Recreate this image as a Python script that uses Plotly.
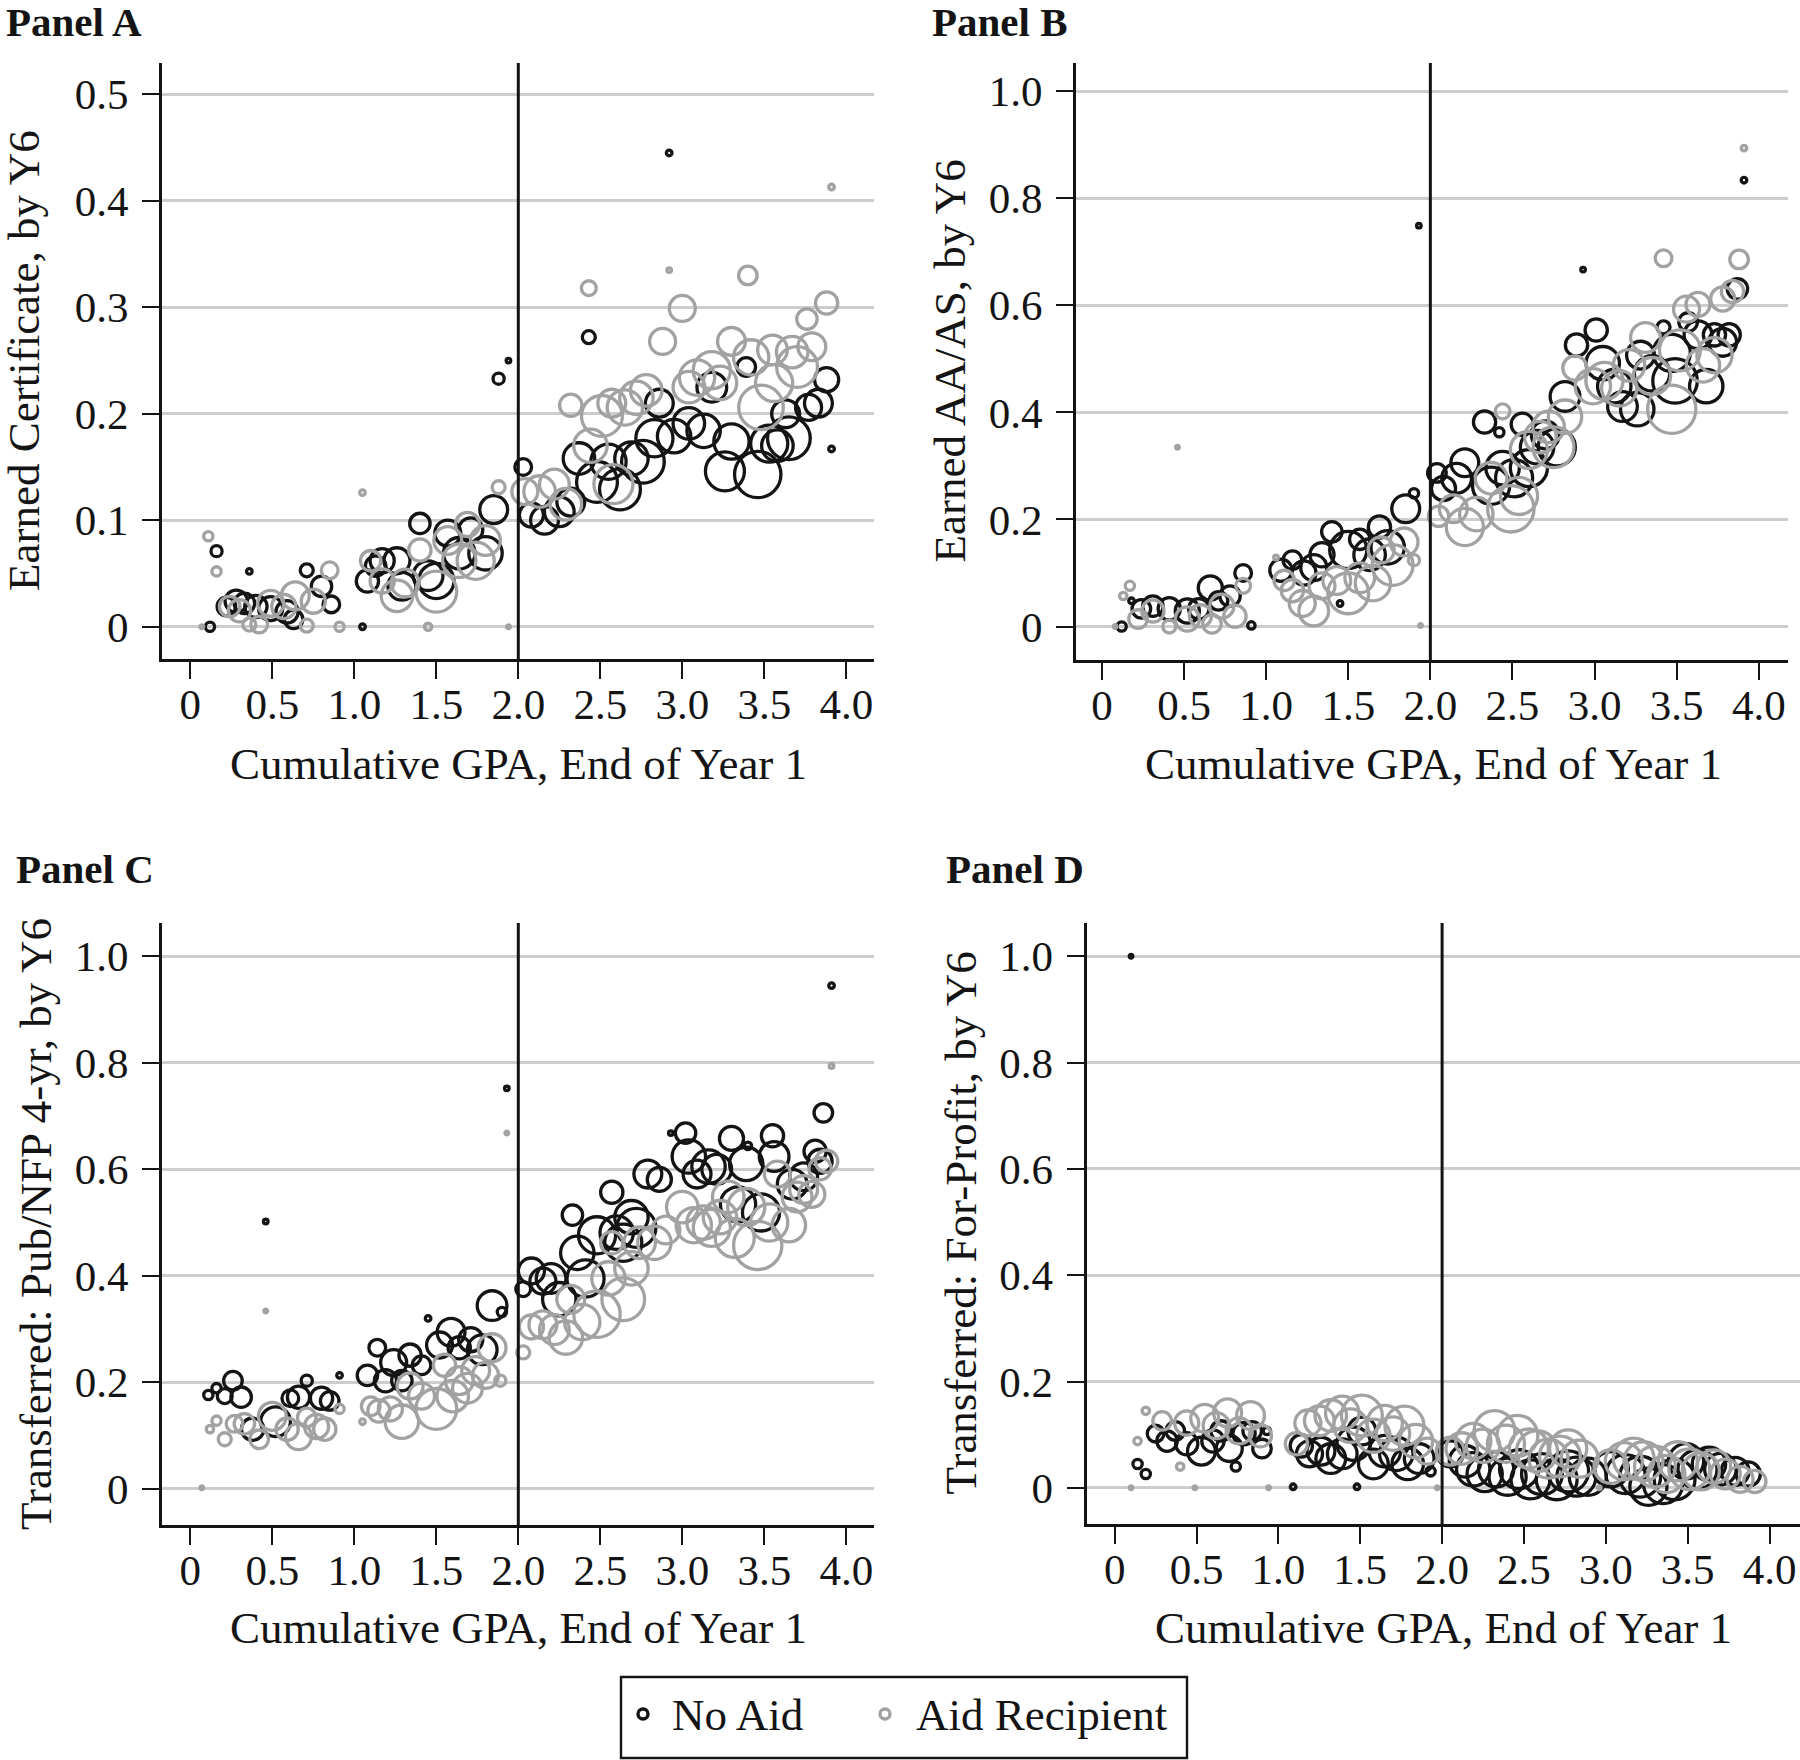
import plotly.graph_objects as go

W, H = 1800, 1760
FONT = "Liberation Serif"
BLACK = "#141414"
GRAY = "#a2a2a2"
GRID = "#cdcdcd"

# ---------------- data: bin mean GPA (x), outcome share (y), students in bin (n)
A_noaid_x = [0.12,0.16,0.22,0.28,0.33,0.36,0.40,0.49,0.59,0.63,0.71,0.80,0.86,
             1.05,1.08,1.13,1.17,1.26,1.29,1.40,1.45,1.50,1.57,1.64,1.71,1.80,1.85,1.88,1.94,
             2.03,2.08,2.16,2.25,2.32,2.37,2.43,2.48,2.55,2.62,2.69,2.76,2.83,2.86,2.92,2.95,3.04,3.13,3.18,3.26,3.30,3.39,3.46,3.53,3.58,3.63,3.65,3.77,3.83,3.88,3.91]
A_noaid_y = [0.000,0.071,0.019,0.024,0.022,0.052,0.019,0.017,0.014,0.007,0.053,0.038,0.021,
             0.000,0.043,0.057,0.062,0.062,0.038,0.097,0.048,0.043,0.088,0.069,0.091,0.069,0.110,0.233,0.250,
             0.150,0.105,0.100,0.108,0.117,0.158,0.272,0.136,0.155,0.129,0.158,0.155,0.177,0.210,0.445,0.179,0.191,0.184,0.225,0.146,0.174,0.244,0.143,0.172,0.170,0.200,0.177,0.206,0.210,0.232,0.167]
A_noaid_n = [25,36,100,144,121,9,144,169,144,100,49,121,81,
             9,144,121,169,196,225,121,256,361,196,289,169,324,225,36,6,
             81,169,225,256,225,289,49,484,361,484,324,529,400,225,9,324,289,324,256,441,361,100,625,400,289,225,529,196,225,169,9]

A_aid_x = [0.07,0.11,0.16,0.24,0.30,0.36,0.42,0.49,0.57,0.64,0.71,0.75,0.85,0.91,
           1.05,1.10,1.17,1.26,1.31,1.40,1.45,1.50,1.57,1.64,1.69,1.74,1.80,1.88,1.94,
           2.04,2.13,2.22,2.29,2.32,2.43,2.44,2.51,2.57,2.58,2.65,2.72,2.78,2.88,2.92,3.00,3.04,3.09,3.18,3.23,3.30,3.40,3.42,3.48,3.55,3.56,3.67,3.70,3.76,3.79,3.88,3.91]
A_aid_y = [0.000,0.085,0.052,0.019,0.015,0.002,0.002,0.022,0.019,0.029,0.001,0.024,0.053,0.000,
           0.126,0.062,0.043,0.029,0.041,0.072,0.000,0.033,0.081,0.062,0.096,0.062,0.081,0.131,0.000,
           0.127,0.127,0.134,0.115,0.208,0.318,0.170,0.198,0.210,0.134,0.206,0.215,0.222,0.268,0.335,0.299,0.225,0.234,0.241,0.229,0.268,0.330,0.253,0.206,0.260,0.229,0.258,0.244,0.289,0.263,0.304,0.413]
A_aid_n = [4,25,25,121,144,49,81,196,169,225,49,169,81,25,
           9,121,169,289,225,144,16,484,225,324,169,400,256,49,4,
           196,289,256,289,144,64,324,484,225,441,361,324,289,196,6,196,289,361,400,324,225,100,361,576,256,400,289,484,121,225,144,9]

B_noaid_x = [0.12,0.18,0.24,0.31,0.41,0.52,0.59,0.66,0.71,0.78,0.86,0.91,
             1.09,1.16,1.23,1.29,1.34,1.40,1.45,1.50,1.57,1.63,1.69,1.74,1.85,1.90,1.93,
             2.04,2.08,2.16,2.21,2.33,2.37,2.42,2.44,2.51,2.56,2.60,2.65,2.70,2.77,2.82,2.89,2.93,3.01,3.05,3.12,3.17,3.26,3.28,3.35,3.42,3.47,3.49,3.57,3.63,3.68,3.73,3.78,3.82,3.87,3.91]
B_noaid_y = [0.000,0.048,0.033,0.038,0.033,0.029,0.033,0.072,0.048,0.057,0.100,0.002,
             0.105,0.124,0.100,0.110,0.134,0.177,0.043,0.143,0.163,0.134,0.186,0.148,0.220,0.249,0.749,
             0.287,0.258,0.277,0.306,0.382,0.263,0.363,0.296,0.277,0.378,0.296,0.335,0.358,0.335,0.430,0.526,0.667,0.554,0.492,0.449,0.411,0.406,0.507,0.473,0.559,0.511,0.459,0.569,0.545,0.449,0.545,0.531,0.545,0.631,0.834]
B_noaid_n = [25,9,100,121,144,169,121,169,100,121,81,16,
             144,100,169,196,169,121,9,400,121,289,144,324,225,25,6,
             100,169,256,225,144,400,25,324,400,144,400,324,225,400,256,144,6,144,324,324,256,324,225,361,49,400,576,100,225,324,144,225,144,121,9]

B_aid_x = [0.08,0.13,0.17,0.22,0.31,0.41,0.46,0.52,0.60,0.67,0.73,0.81,0.86,
           1.06,1.11,1.16,1.22,1.29,1.34,1.43,1.50,1.57,1.65,1.70,1.77,1.84,1.90,1.94,
           2.05,2.14,2.21,2.28,2.37,2.44,2.49,2.54,2.60,2.67,2.72,2.75,2.82,2.88,2.99,3.06,3.15,3.21,3.31,3.35,3.42,3.47,3.52,3.56,3.63,3.66,3.73,3.78,3.84,3.88,3.91]
B_aid_y = [0.000,0.057,0.076,0.014,0.029,0.000,0.335,0.014,0.020,0.005,0.038,0.019,0.076,
           0.129,0.086,0.067,0.043,0.029,0.076,0.086,0.062,0.091,0.081,0.143,0.115,0.158,0.124,0.002,
           0.206,0.220,0.186,0.210,0.277,0.402,0.220,0.244,0.330,0.354,0.373,0.335,0.392,0.483,0.449,0.459,0.445,0.488,0.540,0.468,0.688,0.406,0.516,0.593,0.602,0.488,0.507,0.612,0.626,0.686,0.894]
B_aid_n = [4,16,25,100,144,49,4,169,144,100,169,144,64,
           6,121,144,196,256,196,225,484,256,361,196,484,225,36,4,
           121,225,400,324,289,64,625,400,400,289,289,484,324,169,361,400,361,289,256,400,81,676,484,196,169,324,361,169,144,100,9]

C_noaid_x = [0.11,0.16,0.21,0.26,0.31,0.38,0.46,0.52,0.61,0.66,0.71,0.80,0.85,0.91,
             1.08,1.14,1.19,1.24,1.29,1.34,1.41,1.45,1.52,1.59,1.64,1.71,1.78,1.84,1.90,1.93,
             2.03,2.08,2.15,2.20,2.25,2.33,2.36,2.41,2.48,2.57,2.60,2.64,2.69,2.72,2.79,2.86,2.93,3.02,3.04,3.09,3.16,3.21,3.30,3.34,3.39,3.40,3.48,3.55,3.56,3.67,3.74,3.81,3.84,3.86,3.91]
C_noaid_y = [0.176,0.189,0.174,0.203,0.172,0.112,0.502,0.126,0.170,0.172,0.203,0.170,0.165,0.213,
             0.213,0.265,0.203,0.237,0.203,0.251,0.232,0.320,0.270,0.294,0.265,0.280,0.261,0.344,0.332,0.752,
             0.375,0.409,0.390,0.395,0.356,0.514,0.443,0.395,0.476,0.557,0.481,0.462,0.510,0.490,0.591,0.581,0.668,0.668,0.624,0.591,0.605,0.600,0.658,0.534,0.610,0.644,0.519,0.663,0.624,0.572,0.586,0.634,0.615,0.706,0.945]
C_noaid_n = [25,25,64,100,121,144,6,256,81,144,36,144,100,9,
             121,81,144,196,121,144,100,9,196,225,144,169,256,256,25,6,
             64,196,196,256,324,121,324,400,400,144,324,400,324,441,225,169,6,121,324,225,324,256,169,361,324,16,400,144,256,256,225,144,169,100,9]

C_aid_x = [0.07,0.12,0.16,0.21,0.27,0.33,0.42,0.46,0.50,0.59,0.66,0.71,0.77,0.82,0.91,
           1.05,1.10,1.15,1.22,1.29,1.34,1.41,1.50,1.55,1.60,1.64,1.69,1.74,1.80,1.84,1.89,1.93,
           2.03,2.08,2.15,2.22,2.29,2.32,2.39,2.48,2.55,2.57,2.64,2.69,2.74,2.83,2.90,3.00,3.07,3.13,3.18,3.23,3.28,3.32,3.39,3.46,3.53,3.58,3.65,3.70,3.74,3.79,3.84,3.88,3.91]
C_aid_y = [0.002,0.112,0.128,0.093,0.122,0.122,0.093,0.334,0.136,0.112,0.098,0.134,0.117,0.112,0.150,
           0.126,0.155,0.146,0.150,0.126,0.193,0.174,0.150,0.232,0.174,0.203,0.189,0.222,0.213,0.265,0.203,0.668,
           0.256,0.304,0.308,0.299,0.284,0.356,0.313,0.328,0.395,0.462,0.356,0.414,0.462,0.462,0.486,0.529,0.495,0.500,0.490,0.510,0.548,0.471,0.529,0.457,0.500,0.591,0.495,0.548,0.562,0.553,0.601,0.615,0.794]
C_aid_n = [4,16,25,49,81,121,100,4,225,144,196,100,169,144,25,
           9,100,144,169,324,196,196,484,144,289,225,256,225,196,225,36,4,
           49,169,225,256,324,225,361,625,324,144,529,324,289,324,225,289,361,324,400,324,289,441,400,676,400,196,324,256,225,196,144,144,6]

D_noaid_x = [0.10,0.14,0.19,0.25,0.32,0.37,0.44,0.53,0.60,0.65,0.70,0.74,0.79,0.84,0.90,0.93,
             1.09,1.14,1.19,1.26,1.32,1.39,1.46,1.48,1.51,1.58,1.65,1.72,1.79,1.86,1.93,
             2.05,2.14,2.19,2.26,2.33,2.40,2.47,2.54,2.61,2.70,2.77,2.82,2.89,3.03,3.12,3.21,3.26,3.35,3.42,3.49,3.56,3.63,3.70,3.79,3.87]
D_noaid_y = [1.000,0.045,0.026,0.102,0.088,0.107,0.083,0.069,0.088,0.107,0.074,0.040,0.102,0.107,0.074,0.107,
             0.002,0.079,0.064,0.069,0.055,0.064,0.083,0.002,0.107,0.045,0.069,0.064,0.045,0.055,0.031,
             0.064,0.050,0.035,0.026,0.035,0.021,0.035,0.016,0.026,0.016,0.031,0.021,0.021,0.035,0.026,0.021,0.002,0.007,0.016,0.050,0.035,0.045,0.035,0.031,0.026]
D_noaid_n = [4,25,25,81,121,100,144,225,144,121,196,25,144,100,100,16,
             9,144,196,225,256,256,324,9,225,256,289,324,289,256,25,
             196,289,324,361,361,400,441,441,484,484,484,441,400,361,441,484,400,441,484,361,441,324,289,225,169]

D_aid_x = [0.10,0.14,0.19,0.29,0.40,0.44,0.49,0.55,0.62,0.69,0.76,0.83,0.89,0.94,
           1.11,1.18,1.25,1.32,1.39,1.44,1.51,1.58,1.65,1.70,1.77,1.84,1.91,1.97,
           2.05,2.12,2.19,2.25,2.32,2.39,2.46,2.53,2.58,2.65,2.72,2.77,2.84,2.96,3.03,3.11,3.17,3.23,3.30,3.37,3.44,3.51,3.58,3.66,3.73,3.82,3.91]
D_aid_y = [0.000,0.088,0.145,0.126,0.040,0.122,0.000,0.131,0.117,0.141,0.107,0.136,0.098,0.000,
           0.083,0.122,0.126,0.136,0.141,0.117,0.136,0.098,0.122,0.102,0.117,0.088,0.069,0.000,
           0.069,0.074,0.088,0.079,0.107,0.083,0.098,0.074,0.069,0.055,0.059,0.074,0.055,0.000,0.040,0.050,0.055,0.050,0.040,0.026,0.050,0.035,0.031,0.040,0.026,0.016,0.012]
D_aid_n = [4,16,16,100,16,169,4,225,196,225,196,225,144,4,
           144,196,256,289,324,324,484,324,361,324,441,324,196,4,
           225,289,361,324,484,400,484,441,484,441,484,400,400,4,324,400,484,441,484,400,441,484,400,324,256,196,144]

x_tickvals = [0, 0.5, 1.0, 1.5, 2.0, 2.5, 3.0, 3.5, 4.0]
x_ticktext = ["0", "0.5", "1.0", "1.5", "2.0", "2.5", "3.0", "3.5", "4.0"]
yA_tickvals = [0, 0.1, 0.2, 0.3, 0.4, 0.5]
yA_ticktext = ["0", "0.1", "0.2", "0.3", "0.4", "0.5"]
y_tickvals = [0, 0.2, 0.4, 0.6, 0.8, 1.0]
y_ticktext = ["0", "0.2", "0.4", "0.6", "0.8", "1.0"]
cutoff_gpa = 2.0

panel_titles = ["Panel A", "Panel B", "Panel C", "Panel D"]
y_titles = ["Earned Certificate, by Y6", "Earned AA/AS, by Y6",
            "Transferred: Pub/NFP 4-yr, by Y6", "Transferred: For-Profit, by Y6"]
x_title = "Cumulative GPA, End of Year 1"
legend_labels = ["No Aid", "Aid Recipient"]

# ---------------- layout geometry (pixels)
def fx(px):
    return px / W

def fy(py):
    return 1 - py / H

panels = [
    dict(data=(A_noaid_x, A_noaid_y, A_noaid_n, A_aid_x, A_aid_y, A_aid_n),
         px=(162, 874), py=(63, 659), xr=[-0.1726, 4.169], yr=[-0.0303, 0.5295],
         yt=(yA_tickvals, yA_ticktext), title_xy=(4, 22), ytitle_x=24, xtitle_cx=518, xtitle_y=764),
    dict(data=(B_noaid_x, B_noaid_y, B_noaid_n, B_aid_x, B_aid_y, B_aid_n),
         px=(1076, 1788), py=(63, 660), xr=[-0.158, 4.178], yr=[-0.0626, 1.053],
         yt=(y_tickvals, y_ticktext), title_xy=(930, 22), ytitle_x=950, xtitle_cx=1433, xtitle_y=764),
    dict(data=(C_noaid_x, C_noaid_y, C_noaid_n, C_aid_x, C_aid_y, C_aid_n),
         px=(162, 874), py=(923, 1525), xr=[-0.1726, 4.169], yr=[-0.068, 1.0625],
         yt=(y_tickvals, y_ticktext), title_xy=(14, 869), ytitle_x=36, xtitle_cx=518, xtitle_y=1628),
    dict(data=(D_noaid_x, D_noaid_y, D_noaid_n, D_aid_x, D_aid_y, D_aid_n),
         px=(1086.6, 1800), py=(923, 1524), xr=[-0.1714, 4.186], yr=[-0.068, 1.0625],
         yt=(y_tickvals, y_ticktext), title_xy=(944, 869), ytitle_x=960, xtitle_cx=1443, xtitle_y=1628),
]

fig = go.Figure()
annotations = []
shapes = []
layout = {}

for i, p in enumerate(panels, start=1):
    xa = "x" if i == 1 else f"x{i}"
    ya = "y" if i == 1 else f"y{i}"
    nx, ny, nn, ax_, ay, an = p["data"]
    for xs, ys, ns in [(nx, ny, nn), (ax_, ay, an)]:
        assert len(xs) == len(ys) == len(ns), (i, len(xs), len(ys), len(ns))
    for xs, ys, ns, col in [(nx, ny, nn, BLACK), (ax_, ay, an, GRAY)]:
        fig.add_trace(go.Scatter(
            x=xs, y=ys, mode="markers", xaxis=xa, yaxis=ya, showlegend=False,
            cliponaxis=False, hoverinfo="skip",
            marker=dict(symbol="circle-open", size=ns, sizemode="area", sizeref=0.58,
                        opacity=1, color=col, line=dict(width=3.3, color=col)),
        ))
    x0, x1 = p["px"]
    y0, y1 = p["py"]
    layout[f"xaxis{'' if i == 1 else i}"] = dict(
        domain=[fx(x0), fx(x1)], range=p["xr"], anchor=ya,
        tickvals=x_tickvals, ticktext=x_ticktext,
        showline=True, linecolor=BLACK, linewidth=2.8, mirror=False,
        ticks="outside", ticklen=17, tickwidth=2.4, tickcolor=BLACK,
        showgrid=False, zeroline=False, fixedrange=True,
        tickfont=dict(family=FONT, size=43, color=BLACK), ticklabelstandoff=-12,
    )
    layout[f"yaxis{'' if i == 1 else i}"] = dict(
        domain=[fy(y1), fy(y0)], range=p["yr"], anchor=xa,
        tickvals=p["yt"][0], ticktext=p["yt"][1],
        showline=True, linecolor=BLACK, linewidth=2.8, mirror=False,
        ticks="outside", ticklen=17, tickwidth=2.4, tickcolor=BLACK,
        showgrid=True, gridcolor=GRID, gridwidth=2.8, zeroline=False, fixedrange=True,
        tickfont=dict(family=FONT, size=43, color=BLACK), ticklabelstandoff=5,
    )
    shapes.append(dict(type="line", xref=xa, yref=f"{ya} domain", x0=cutoff_gpa, x1=cutoff_gpa,
                       y0=0, y1=1, line=dict(color=BLACK, width=3), layer="above"))
    tx, ty = p["title_xy"]
    annotations.append(dict(text=f"<b>{panel_titles[i-1]}</b>", xref="paper", yref="paper",
                            x=fx(tx), y=fy(ty), xanchor="left", yanchor="middle", showarrow=False,
                            font=dict(family=FONT, size=41, color=BLACK)))
    annotations.append(dict(text=y_titles[i-1], xref="paper", yref="paper", textangle=-90,
                            x=fx(p["ytitle_x"]), y=fy((y0 + y1) / 2), xanchor="center", yanchor="middle",
                            showarrow=False, font=dict(family=FONT, size=45, color=BLACK)))
    annotations.append(dict(text=x_title, xref="paper", yref="paper",
                            x=fx(p["xtitle_cx"]), y=fy(p["xtitle_y"]),
                            xanchor="center", yanchor="middle", showarrow=False,
                            font=dict(family=FONT, size=45, color=BLACK)))

# legend (drawn by hand: box, two ring markers, labels)
shapes.append(dict(type="rect", xref="paper", yref="paper", x0=fx(621), x1=fx(1187),
                   y0=fy(1758), y1=fy(1677), line=dict(color=BLACK, width=2.4)))
for cx, col in [(643, BLACK), (885, GRAY)]:
    shapes.append(dict(type="circle", xref="paper", yref="paper", x0=fx(cx - 5), x1=fx(cx + 5),
                       y0=fy(1719), y1=fy(1709), line=dict(color=col, width=3.4)))
for tx, lab in [(670, legend_labels[0]), (914, legend_labels[1])]:
    annotations.append(dict(text=lab, xref="paper", yref="paper", x=fx(tx), y=fy(1715),
                            xanchor="left", yanchor="middle", showarrow=False,
                            font=dict(family=FONT, size=45, color=BLACK)))

fig.update_layout(
    width=W, height=H, margin=dict(l=0, r=0, t=0, b=0),
    paper_bgcolor="white", plot_bgcolor="white",
    showlegend=False, annotations=annotations, shapes=shapes,
    font=dict(family=FONT, color=BLACK),
    **layout,
)

fig.write_html(
    "out.html",
    config={"displayModeBar": False},
    post_script="document.body.style.margin='0px';document.body.style.padding='0px';"
                "document.documentElement.style.overflow='hidden';",
)
